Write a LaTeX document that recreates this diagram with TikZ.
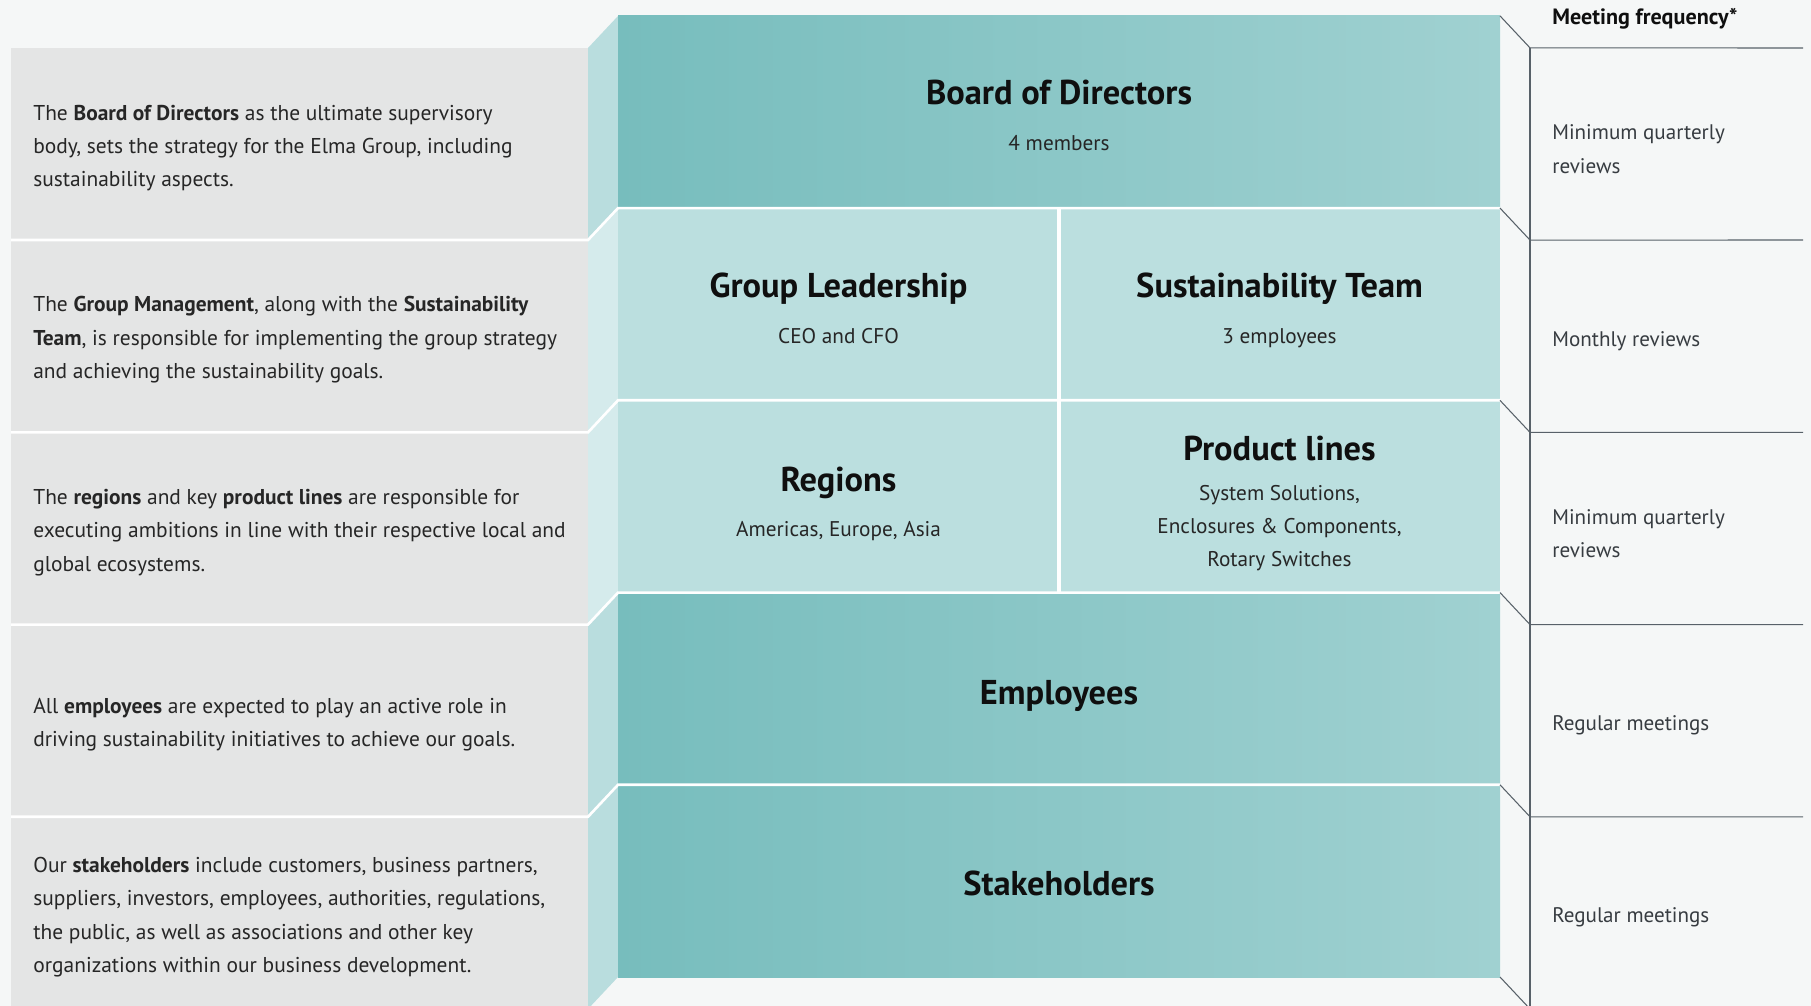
\documentclass[tikz,border=0pt]{standalone}
\usepackage{fontspec}
\setmainfont{PT Sans}
\usepackage{xcolor}
\usepackage{tikz}
\usetikzlibrary{positioning, calc}
\definecolor{pagebg}{RGB}{245,247,247}
\definecolor{panelgray}{RGB}{228,229,229}
\definecolor{tealdark}{RGB}{119,189,189}
\definecolor{teallight}{RGB}{160,209,209}
\definecolor{tealpale}{RGB}{187,223,223}
\definecolor{bevelmid}{RGB}{185,221,222}
\definecolor{bevelpale}{RGB}{213,235,236}
\definecolor{rulegray}{RGB}{88,97,105}
\definecolor{bodyink}{RGB}{38,38,38}
\definecolor{titleink}{RGB}{15,15,15}
\definecolor{freqink}{RGB}{55,60,65}

\begin{document}
\begin{tikzpicture}[
    x=0.2mm, y=-0.2mm,
    band/.style={inner sep=0pt, outer sep=0pt, minimum height=38.44mm},
    darkband/.style={band, minimum width=176.4mm, left color=tealdark, right color=teallight},
    paleband/.style={band, minimum width=88.2mm, fill=tealpale},
    heading/.style={anchor=base, font=\fontsize{19.6}{23}\selectfont\bfseries, text=titleink},
    detail/.style={align=center, font=\fontsize{12.1}{19}\selectfont, text=bodyink},
    note/.style={anchor=west, align=left, inner sep=0pt, font=\fontsize{12.2}{19}\selectfont, text=bodyink},
    freq/.style={anchor=west, align=left, inner sep=0pt, font=\fontsize{12}{19}\selectfont, text=freqink},
    divider/.style={draw=white, line width=1.5pt},
    frame/.style={draw=rulegray, line width=0.6pt}
]
    \useasboundingbox (0,0) rectangle (1811,1006);
    \clip (0,0) rectangle (1811,1006);
    \fill[pagebg] (0,0) rectangle (1811,1006);

    % Description panel
    \fill[panelgray] (11,48) rectangle (588,1006);

    % Bevel strip
    \fill[bevelmid] (588,48) -- (618,16) -- (618,208) -- (588,240) -- cycle;
    \fill[bevelpale] (588,240) -- (618,208) -- (618,400.4) -- (588,432.4) -- cycle;
    \fill[bevelpale] (588,432.4) -- (618,400.4) -- (618,592.6) -- (588,624.6) -- cycle;
    \fill[bevelmid] (588,624.6) -- (618,592.6) -- (618,784.8) -- (588,816.8) -- cycle;
    \fill[bevelmid] (588,816.8) -- (618,784.8) -- (618,977) -- (588,1009) -- cycle;

    % Bands
    \node[darkband] (board) at (1059,112) {};
    \node[paleband] (leaders) at (838.5,304.2) {};
    \node[paleband] (sustain) at (1279.5,304.2) {};
    \node[paleband] (regions) at (838.5,496.5) {};
    \node[paleband] (products) at (1279.5,496.5) {};
    \node[darkband] (employees) at (1059,688.7) {};
    \node[darkband] (stake) at (1059,880.9) {};

    % Dividers
    \draw[divider] (11,240) -- (588,240) -- (board.south west) -- (board.south east);
    \draw[divider] (11,432.4) -- (588,432.4) -- (leaders.south west) -- (sustain.south east);
    \draw[divider] (11,624.6) -- (588,624.6) -- (regions.south west) -- (products.south east);
    \draw[divider] (11,816.8) -- (588,816.8) -- (employees.south west) -- (employees.south east);
    \draw[divider, line width=2.2pt] (leaders.north east) -- (regions.south east);

    % Frequency frame
    \draw[frame] (board.north east) -- ++(30,32) -- (1803,48);
    \draw[frame] (sustain.north east) -- ++(30,32) -- (1803,240);
    \draw[frame] (products.north east) -- ++(30,32) -- (1803,432.4);
    \draw[frame] (employees.north east) -- ++(30,32) -- (1803,624.6);
    \draw[frame] (stake.north east) -- ++(30,32) -- (1803,816.8);
    \draw[frame] (stake.south east) -- ++(30,32);
    \draw[frame] (1530,48) -- (1530,1006);

    % Band labels
    \node[heading] (boardtitle) at (1059,105) {Board of Directors};
    \node[detail, anchor=base] (boardsub) at (1059,151) {4 members};
    \node[heading] (leaderstitle) at (838.5,297) {Group Leadership};
    \node[detail, anchor=base] (leaderssub) at (838.5,343) {CEO and CFO};
    \node[heading] (sustaintitle) at (1279.5,297) {Sustainability Team};
    \node[detail, anchor=base] (sustainsub) at (1279.5,343) {3 employees};
    \node[heading] (regionstitle) at (838.5,491) {Regions};
    \node[detail, anchor=base] (regionssub) at (838.5,536) {Americas, Europe, Asia};
    \node[heading] (productstitle) at (1279.5,460) {Product lines};
    \node[detail] (productssub) at (1279.5,528) {System Solutions,\\Enclosures \& Components,\\Rotary Switches};
    \node[heading] (employeestitle) at (1059,704) {Employees};
    \node[heading] (staketitle) at (1059,895) {Stakeholders};

    % Descriptions
    \node[note] (boardnote) at (33,148) {The \textbf{Board of Directors} as the ultimate supervisory\\body, sets the strategy for the Elma Group, including\\sustainability aspects.};
    \node[note] (leadersnote) at (33,340) {The \textbf{Group Management}, along with the \textbf{Sustainability}\\\textbf{Team}, is responsible for implementing the group strategy\\and achieving the sustainability goals.};
    \node[note] (regionsnote) at (33,532.5) {The \textbf{regions} and key \textbf{product lines} are responsible for\\executing ambitions in line with their respective local and\\global ecosystems.};
    \node[note] (employeesnote) at (33,724.7) {All \textbf{employees} are expected to play an active role in\\driving sustainability initiatives to achieve our goals.};
    \node[note] (stakenote) at (33,917) {Our \textbf{stakeholders} include customers, business partners,\\suppliers, investors, employees, authorities, regulations,\\the public, as well as associations and other key\\organizations within our business development.};

    % Meeting frequency
    \node[freq, anchor=base west, font=\fontsize{12.6}{19}\selectfont\bfseries, text=titleink] (freqhead) at (1552,25) {Meeting frequency*};
    \node[freq] (freqboard) at (1552,149) {Minimum quarterly\\reviews};
    \node[freq] (freqleaders) at (1552,341) {Monthly reviews};
    \node[freq] (freqregions) at (1552,533.5) {Minimum quarterly\\reviews};
    \node[freq] (freqemployees) at (1552,725.7) {Regular meetings};
    \node[freq] (freqstake) at (1552,917.5) {Regular meetings};
\end{tikzpicture}
\end{document}
